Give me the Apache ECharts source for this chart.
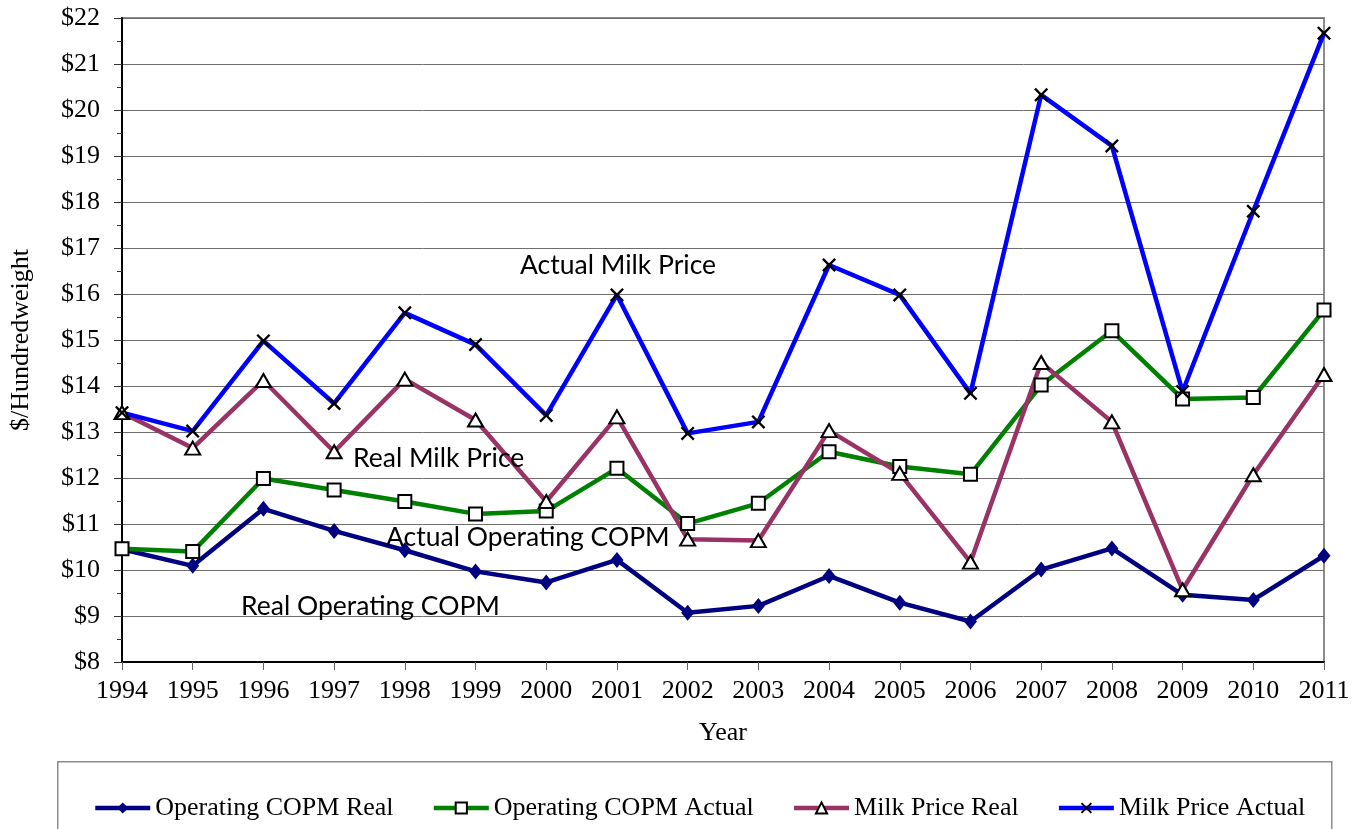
<!DOCTYPE html>
<html>
<head>
<meta charset="utf-8">
<script src="https://cdn.jsdelivr.net/npm/echarts@6/dist/echarts.min.js"></script>
<style>
html,body{margin:0;padding:0;background:#fff;}
#chart{width:1362px;height:829px;}
</style>
</head>
<body>
<div id="chart"></div>
<script>
const years = ['1994','1995','1996','1997','1998','1999','2000','2001','2002','2003','2004','2005','2006','2007','2008','2009','2010','2011'];
const copmReal   = [10.45,10.09,11.33,10.85,10.43,9.97,9.73,10.22,9.07,9.22,9.87,9.29,8.88,10.01,10.47,9.46,9.35,10.31];
const copmActual = [10.46,10.40,11.99,11.74,11.49,11.22,11.28,12.21,11.01,11.45,12.57,12.25,12.08,14.02,15.20,13.72,13.75,15.65];
const milkReal   = [13.42,12.65,14.12,12.57,14.15,13.26,11.49,13.33,10.67,10.64,13.03,12.10,10.17,14.51,13.22,9.57,12.07,14.25];
const milkActual = [13.42,13.02,14.98,13.62,15.59,14.90,13.36,15.98,12.97,13.22,16.63,15.98,13.84,20.33,19.22,13.88,17.80,21.67];
const seriesNames = ['Operating COPM Real','Operating COPM Actual','Milk Price Real','Milk Price Actual'];
const annotations = ['Actual Milk Price','Real Milk Price','Actual Operating COPM','Real Operating COPM'];

const serif = '"Liberation Serif","Times New Roman",serif';
const sans = 'Lato,"Liberation Sans",sans-serif';
const xPath = 'path://M0,1.2L1.2,0L5,3.8L8.8,0L10,1.2L6.2,5L10,8.8L8.8,10L5,6.2L1.2,10L0,8.8L3.8,5Z';

const chart = echarts.init(document.getElementById('chart'));
const annoPos = [[520,265],[353,458],[386,537],[241,606]];
chart.setOption({
  animation:false,
  backgroundColor:'#fff',
  grid:{left:122,right:38,top:18,bottom:167,outerBoundsMode:'none',containLabel:false,show:true,borderColor:'#8c8c8c',borderWidth:2,backgroundColor:'transparent'},
  xAxis:{
    type:'category',data:years,boundaryGap:false,
    name:'Year',nameLocation:'middle',nameGap:58,
    nameTextStyle:{fontFamily:serif,fontSize:26,color:'#000'},
    axisLine:{show:true,lineStyle:{color:'#000',width:2}},
    axisTick:{show:true,length:8,lineStyle:{color:'#666',width:1}},
    axisLabel:{fontFamily:serif,fontSize:26,color:'#000',margin:16},
    splitLine:{show:false}
  },
  yAxis:{
    type:'value',min:8,max:22,interval:1,
    name:'$/Hundredweight',nameLocation:'middle',nameGap:88,
    nameTextStyle:{fontFamily:serif,fontSize:26,color:'#000'},
    axisLine:{show:true,lineStyle:{color:'#000',width:2}},
    axisTick:{show:true,length:8,lineStyle:{color:'#333',width:1}},
    minorTick:{show:true,splitNumber:2,length:5,lineStyle:{color:'#333',width:1}},
    axisLabel:{fontFamily:serif,fontSize:26,color:'#000',margin:22,formatter:v=>'$'+v},
    splitLine:{show:true,lineStyle:{color:'#6e6e6e',width:1}}
  },
  legend:{
    left:88,top:790,itemWidth:55,itemHeight:14,itemGap:38,
    lineStyle:{width:4.5},
    textStyle:{fontFamily:serif,fontSize:26,color:'#000'},
    data:seriesNames
  },
  graphic:[
    {type:'rect',left:57,top:761,z:-1,shape:{width:1274,height:120},style:{fill:'#fff',stroke:'#8c8c8c',lineWidth:1.5}}
  ].concat(annotations.map((t,i)=>({
    type:'text',x:annoPos[i][0],y:annoPos[i][1],z:100,
    style:{text:t,font:'26.5px '+sans,fill:'#000',textVerticalAlign:'middle',textAlign:'left'}
  }))),
  series:[
    {name:seriesNames[0],type:'line',data:copmReal,symbol:'diamond',symbolSize:[13,16],
     lineStyle:{color:'#000080',width:4.5},itemStyle:{color:'#000080'}},
    {name:seriesNames[1],type:'line',data:copmActual,symbol:'rect',symbolSize:13,
     lineStyle:{color:'#008000',width:4.5},itemStyle:{color:'#fff',borderColor:'#000',borderWidth:2}},
    {name:seriesNames[2],type:'line',data:milkReal,symbol:'triangle',symbolSize:[15,13],
     lineStyle:{color:'#993366',width:4.5},itemStyle:{color:'#fff',borderColor:'#000',borderWidth:2}},
    {name:seriesNames[3],type:'line',data:milkActual,symbol:xPath,symbolSize:14,
     lineStyle:{color:'#0000ff',width:4.5},itemStyle:{color:'#000',borderWidth:0}}
  ]
});
</script>
</body>
</html>
